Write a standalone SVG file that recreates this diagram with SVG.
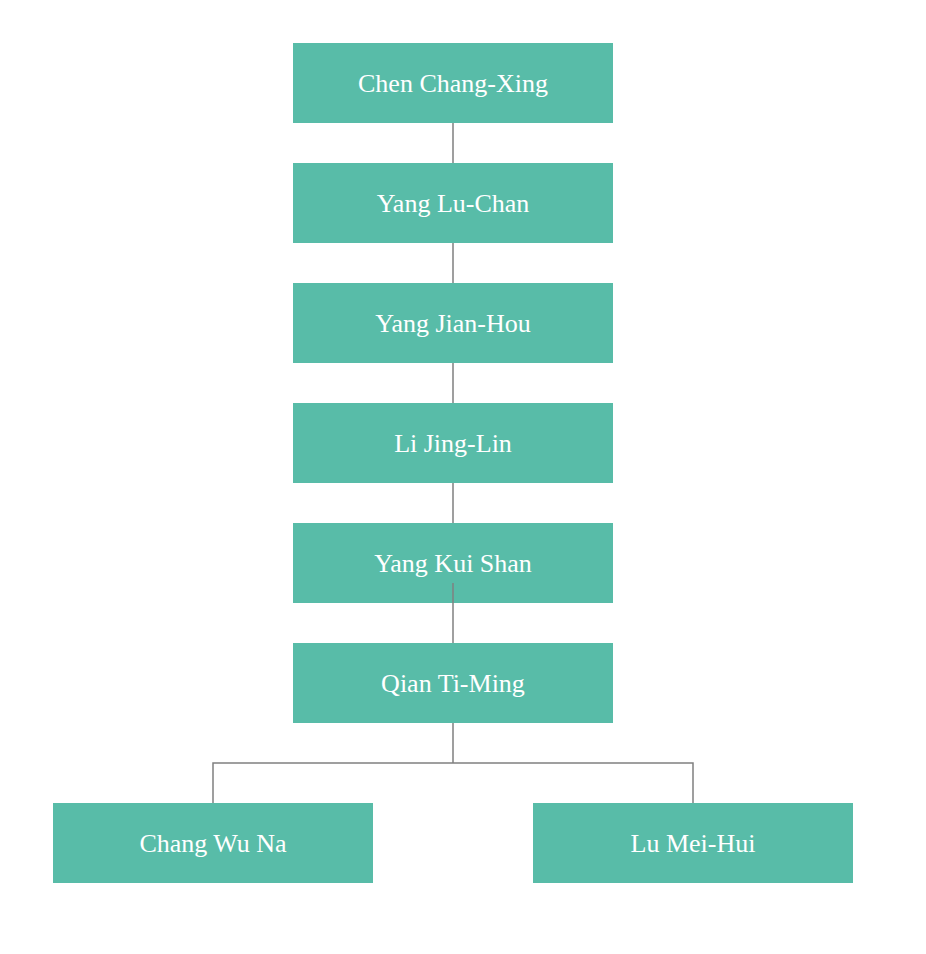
<svg xmlns="http://www.w3.org/2000/svg" width="926" height="954" viewBox="0 0 926 954">
<style>
.n rect{fill:#58bca8}
.n text{fill:#fff;font-family:"Liberation Serif",serif;font-size:26px;text-anchor:middle}
.c path{stroke:#808080;stroke-width:1.5;fill:none}
</style>
<rect width="926" height="954" fill="#fff"/>
<g class="c">
<path d="M453 123V163M453 243V283M453 363V403M453 483V523M453 723V763H213V803M453 763H693V803"/>
</g>
<g id="n1" class="n"><rect x="293" y="43" width="320" height="80"/><text x="453" y="92">Chen Chang-Xing</text></g>
<g id="n2" class="n"><rect x="293" y="163" width="320" height="80"/><text x="453" y="212">Yang Lu-Chan</text></g>
<g id="n3" class="n"><rect x="293" y="283" width="320" height="80"/><text x="453" y="332">Yang Jian-Hou</text></g>
<g id="n4" class="n"><rect x="293" y="403" width="320" height="80"/><text x="453" y="452">Li Jing-Lin</text></g>
<g id="n5" class="n"><rect x="293" y="523" width="320" height="80"/><text x="453" y="572">Yang Kui Shan</text></g>
<g class="c"><path d="M453 583V643"/></g>
<g id="n6" class="n"><rect x="293" y="643" width="320" height="80"/><text x="453" y="692">Qian Ti-Ming</text></g>
<g id="n7" class="n"><rect x="53" y="803" width="320" height="80"/><text x="213" y="852">Chang Wu Na</text></g>
<g id="n8" class="n"><rect x="533" y="803" width="320" height="80"/><text x="693" y="852">Lu Mei-Hui</text></g>
</svg>
